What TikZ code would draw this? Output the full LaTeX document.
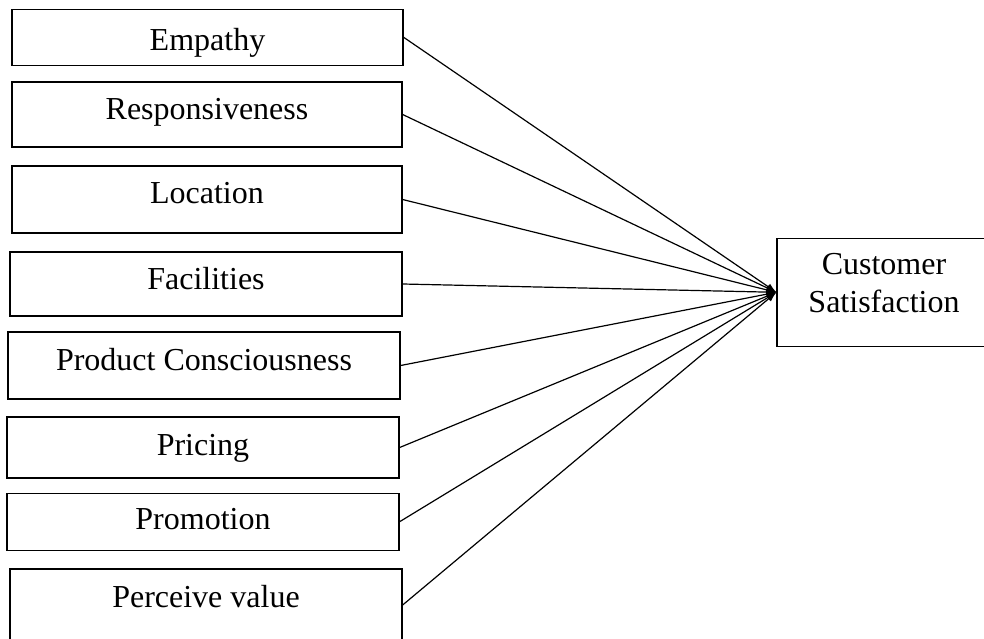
\documentclass[tikz,border=0pt]{standalone}
\usepackage{fontspec}
\setmainfont{Liberation Serif}
\usetikzlibrary{arrows.meta}
\begin{document}
\begin{tikzpicture}[x=1pt,y=-1pt,
  box/.style={draw, line width=1.3pt, rectangle, inner sep=0pt,
    font=\fontsize{32}{38}\selectfont},
  factor/.style 2 args={box, text height=#1, text depth=#2},
  outcome/.style={box, align=center},
  link/.style={line width=1.2pt, -{Latex[length=10pt,width=7pt]}}]
\useasboundingbox (0,0) rectangle (984,639);
% predictor boxes
\node[factor={27pt}{1pt},     minimum width=391pt, minimum height=56pt] (emp)  at (207.5,37.3)  {Empathy};
\node[factor={19.5pt}{8.5pt}, minimum width=390pt, minimum height=65pt] (resp) at (207,114.5)   {Responsiveness};
\node[factor={17.5pt}{10.5pt},minimum width=390pt, minimum height=67pt] (loc)  at (207,199.5)   {Location};
\node[factor={19pt}{9pt},     minimum width=392pt, minimum height=64pt] (fac)  at (206,284)     {Facilities};
\node[factor={18.5pt}{9.5pt}, minimum width=392pt, minimum height=67pt] (prod) at (204,365.5)   {Product Consciousness};
\node[factor={21.5pt}{6.5pt}, minimum width=392pt, minimum height=61pt] (pri)  at (203,447.5)   {Pricing};
\node[factor={21.5pt}{6.5pt}, minimum width=392pt, minimum height=57pt] (prom) at (203,521.7)   {Promotion};
\node[factor={16pt}{12pt},    minimum width=392pt, minimum height=72pt] (val)  at (206,605)     {Perceive value};
% outcome box
\node[outcome, minimum width=214pt, minimum height=108pt, text depth=19pt] (cs) at (884,292.3) {Customer\\Satisfaction};
% paths into the outcome
\foreach \n in {emp,resp,loc,fac,prod,pri,prom,val}
  \draw[link] (\n.east) -- (cs.west);
\end{tikzpicture}
\end{document}
